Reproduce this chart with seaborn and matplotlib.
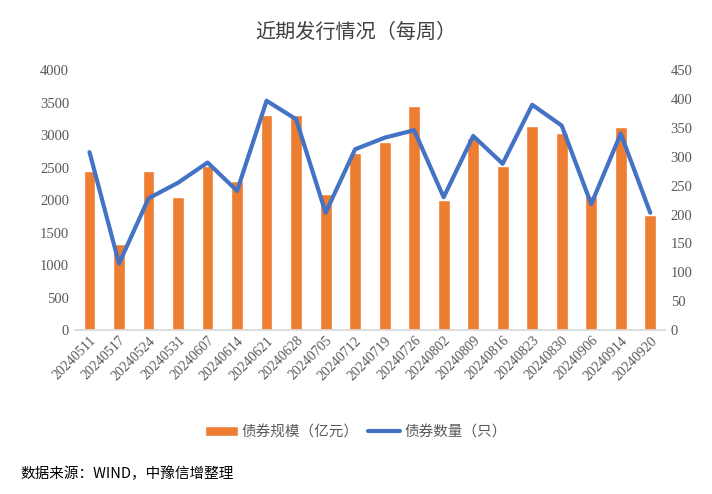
import matplotlib as mpl
mpl.use('Agg')
import matplotlib.pyplot as plt
import numpy as np
import pandas as pd
import seaborn as sns

dates = ['20240511', '20240517', '20240524', '20240531', '20240607', '20240614',
         '20240621', '20240628', '20240705', '20240712', '20240719', '20240726',
         '20240802', '20240809', '20240816', '20240823', '20240830', '20240906',
         '20240914', '20240920']
scale = [2440, 1330, 2450, 2040, 2530, 2300, 3310, 3310, 2100, 2730,
         2900, 3450, 2000, 2950, 2530, 3140, 3030, 2070, 3120, 1770]
count = [308, 115, 228, 255, 290, 241, 397, 365, 203, 313,
         333, 346, 230, 336, 288, 390, 354, 218, 340, 203]

df = pd.DataFrame({'date': dates, 'scale': scale, 'count': count})

sns.set_theme(style='white')
plt.rcParams['font.family'] = 'serif'
plt.rcParams['font.serif'] = ['Liberation Serif', 'DejaVu Serif']
cjk = ['Noto Sans CJK SC', 'DejaVu Sans']
grey = '#595959'

fig = plt.figure(figsize=(7.12, 4.94), dpi=100)
ax = fig.add_axes([0.105, 0.332, 0.829, 0.526])
ax2 = ax.twinx()

sns.barplot(data=df, x='date', y='scale', color='#ED7D31', width=0.4,
            saturation=1, ax=ax, label='债券规模（亿元）', zorder=2)
sns.lineplot(x=np.arange(len(df)), y=df['count'], color='#4472C4', linewidth=3,
             ax=ax2, label='债券数量（只）', zorder=3)

ax.set_ylim(0, 4000)
ax.set_yticks(np.arange(0, 4001, 500))
ax2.set_ylim(0, 450)
ax2.set_yticks(np.arange(0, 451, 50))
ax.set_xlim(-0.5, len(df) - 0.5)

ax.set_xlabel('')
ax.set_ylabel('')
ax2.set_ylabel('')
ax.set_xticks(np.arange(len(df)))
ax.set_xticklabels(dates, rotation=45, ha='right', rotation_mode='anchor')
for a in (ax, ax2):
    for s in a.spines.values():
        s.set_visible(False)
    a.tick_params(length=0, labelsize=10.5, colors=grey, pad=4)
    a.grid(False)
ax.spines['bottom'].set_visible(True)
ax.spines['bottom'].set_color('#D9D9D9')
ax.tick_params(axis='x', pad=3, labelsize=10)

h1, l1 = ax.get_legend_handles_labels()
h2, l2 = ax2.get_legend_handles_labels()
if ax.get_legend():
    ax.get_legend().remove()
ax2.get_legend().remove()
leg = fig.legend(h1 + h2, l1 + l2, loc='center', bbox_to_anchor=(0.5, 0.125), ncol=2,
                 frameon=False, handlelength=2.2, handletextpad=0.3,
                 columnspacing=0.6, prop={'family': cjk, 'size': 10.5})
for t in leg.get_texts():
    t.set_color(grey)

fig.text(0.5, 0.935, '近期发行情况（每周）', ha='center', va='center', fontsize=14.5,
         color='#404040', family=cjk)
fig.text(0.028, 0.04, '数据来源：WIND，中豫信增整理', ha='left', va='center', fontsize=10.5,
         color='#000000', family=cjk)

fig.savefig('out.png', dpi=100)
